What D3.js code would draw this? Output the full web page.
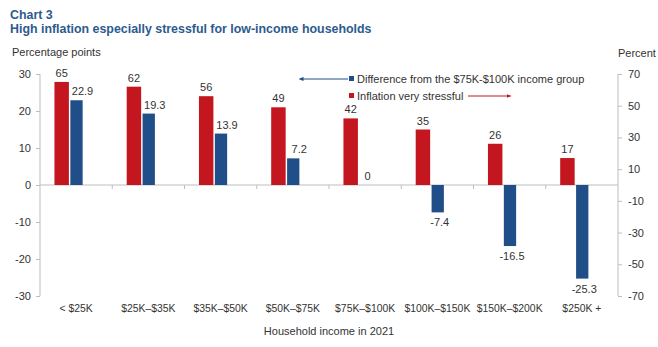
<!DOCTYPE html>
<html>
<head>
<meta charset="utf-8">
<script src="https://cdn.jsdelivr.net/npm/d3@7"></script>
<style>
    body { margin: 0; background: #fff; }
    svg { font-family: "Liberation Sans", Arial, sans-serif; }
    .title { fill: #2b5b8f; font-weight: bold; font-size: 12.4px; }
    .axis-label { fill: #333; font-size: 11px; }
    .tick-label { fill: #333; font-size: 11px; }
    .cat-label { fill: #333; font-size: 10.4px; }
    .bar-label { fill: #333; font-size: 11px; }
</style>
</head>
<body>
<script>
// income groups along the bottom
var categories = ["< $25K", "$25K\u2013$35K", "$35K\u2013$50K", "$50K\u2013$75K",
                  "$75K\u2013$100K", "$100K\u2013$150K", "$150K\u2013$200K", "$250K +"];
// percent saying inflation is very stressful (right axis)
var stressful = [65, 62, 56, 49, 42, 35, 26, 17];
// difference from the $75K-$100K group, percentage points (left axis)
var difference = [22.9, 19.3, 13.9, 7.2, 0, -7.4, -16.5, -25.3];

var leftTicks = [30, 20, 10, 0, -10, -20, -30];
var rightTicks = [70, 50, 30, 10, -10, -30, -50, -70];

var width = 658, height = 347;
var plot = {left: 40, right: 618, top: 74, bottom: 296};

var red = "#c3161f", blue = "#1f4e89", axisGray = "#bdbdbd";

var svg = d3.select("body").append("svg")
    .attr("width", width)
    .attr("height", height);

var x = d3.scaleBand()
    .domain(categories)
    .range([plot.left, plot.right]);

var yLeft = d3.scaleLinear().domain([-30, 30]).range([plot.bottom, plot.top]);
var yRight = d3.scaleLinear().domain([-70, 70]).range([plot.bottom, plot.top]);

// titles
svg.append("text").attr("class", "title").attr("x", 10).attr("y", 19).text("Chart 3");
svg.append("text").attr("class", "title").attr("x", 10).attr("y", 33)
    .text("High inflation especially stressful for low-income households");

svg.append("text").attr("class", "axis-label").attr("x", 12).attr("y", 56).text("Percentage points");
svg.append("text").attr("class", "axis-label").attr("x", 618).attr("y", 57).text("Percent");

// plain hyphen minus, like the source chart
var fmt = function(d) { return String(d); };

var leftAxis = d3.axisLeft(yLeft).tickValues(leftTicks).tickFormat(fmt).tickSize(4).tickPadding(5);
var gl = svg.append("g").attr("transform", "translate(" + plot.left + ",0)").call(leftAxis);

var rightAxis = d3.axisRight(yRight).tickValues(rightTicks).tickFormat(fmt).tickSize(4).tickPadding(6);
var gr = svg.append("g").attr("transform", "translate(" + plot.right + ",0)").call(rightAxis);

[gl, gr].forEach(function(g) {
    // plain vertical axis line without end caps
    g.select(".domain").attr("stroke", axisGray).attr("d", "M0," + plot.top + "V" + plot.bottom);
    g.selectAll(".tick line").attr("stroke", axisGray);
    g.selectAll(".tick text").attr("class", "tick-label")
        .attr("fill", "#333")
        .style("font-family", "'Liberation Sans', Arial, sans-serif");
});

// zero line with category separators
svg.append("line")
    .attr("x1", plot.left).attr("x2", plot.right)
    .attr("y1", yLeft(0)).attr("y2", yLeft(0))
    .attr("stroke", axisGray).attr("stroke-width", 1.2);

svg.selectAll(".sep")
    .data(categories.slice(1))
    .enter().append("line")
    .attr("x1", function(d) { return x(d); })
    .attr("x2", function(d) { return x(d); })
    .attr("y1", yLeft(0)).attr("y2", yLeft(0) + 4)
    .attr("stroke", axisGray);

var bw = x.bandwidth();
var redOff = bw * 0.2, redW = bw * 0.2;
var blueOff = bw * 0.42, blueW = bw * 0.17;

var rows = categories.map(function(c, i) {
    return {cat: c, stressful: stressful[i], diff: difference[i]};
});

// inflation very stressful bars (right axis)
svg.selectAll(".bar-red")
    .data(rows)
    .enter().append("rect")
    .attr("x", function(d) { return x(d.cat) + redOff; })
    .attr("width", redW)
    .attr("y", function(d) { return yRight(d.stressful); })
    .attr("height", function(d) { return yRight(0) - yRight(d.stressful); })
    .attr("fill", red);

// difference bars (left axis)
svg.selectAll(".bar-blue")
    .data(rows)
    .enter().append("rect")
    .attr("x", function(d) { return x(d.cat) + blueOff; })
    .attr("width", blueW)
    .attr("y", function(d) { return yLeft(Math.max(0, d.diff)); })
    .attr("height", function(d) { return Math.abs(yLeft(d.diff) - yLeft(0)); })
    .attr("fill", blue);

// value labels
svg.selectAll(".lab-red")
    .data(rows)
    .enter().append("text")
    .attr("class", "bar-label")
    .attr("text-anchor", "middle")
    .attr("x", function(d) { return x(d.cat) + redOff + redW / 2; })
    .attr("y", function(d) { return yRight(d.stressful) - 5; })
    .text(function(d) { return d.stressful; });

svg.selectAll(".lab-blue")
    .data(rows)
    .enter().append("text")
    .attr("class", "bar-label")
    .attr("text-anchor", "middle")
    .attr("x", function(d) { return x(d.cat) + blueOff + blueW / 2 + (d.diff > 0 ? 6 : 2); })
    .attr("y", function(d) {
        return d.diff < 0 ? yLeft(d.diff) + 14 : yLeft(d.diff) - 5;
    })
    .text(function(d) { return d.diff; });

// category labels
svg.selectAll(".cat")
    .data(categories)
    .enter().append("text")
    .attr("class", "cat-label")
    .attr("text-anchor", "middle")
    .attr("x", function(d) { return x(d) + bw / 2; })
    .attr("y", 312)
    .text(function(d) { return d; });

svg.append("text").attr("class", "axis-label")
    .attr("text-anchor", "middle")
    .attr("x", (plot.left + plot.right) / 2).attr("y", 335)
    .text("Household income in 2021");

// legend with arrows pointing to each series' axis
var defs = svg.append("defs");
function arrowHead(id, color) {
    defs.append("marker")
        .attr("id", id)
        .attr("viewBox", "0 0 10 10")
        .attr("refX", 5).attr("refY", 5)
        .attr("markerWidth", 5).attr("markerHeight", 5)
        .attr("orient", "auto")
        .append("path").attr("d", "M0,1 L10,5 L0,9 Z").attr("fill", color);
}
arrowHead("arrow-blue", blue);
arrowHead("arrow-red", red);

var legend = [
    {label: "Difference from the $75K-$100K income group", color: blue, y: 79,
     ax1: 348, ax2: 301, marker: "arrow-blue"},
    {label: "Inflation very stressful", color: red, y: 96,
     ax1: 468, ax2: 509, marker: "arrow-red"}
];

legend.forEach(function(l) {
    svg.append("rect").attr("x", 349).attr("y", l.y - 3).attr("width", 5).attr("height", 5)
        .attr("fill", l.color);
    svg.append("text").attr("class", "axis-label").attr("x", 357).attr("y", l.y + 4)
        .text(l.label);
    svg.append("line")
        .attr("x1", l.ax1).attr("x2", l.ax2)
        .attr("y1", l.y).attr("y2", l.y)
        .attr("stroke", l.color).attr("stroke-width", 1)
        .attr("marker-end", "url(#" + l.marker + ")");
});
</script>
</body>
</html>
